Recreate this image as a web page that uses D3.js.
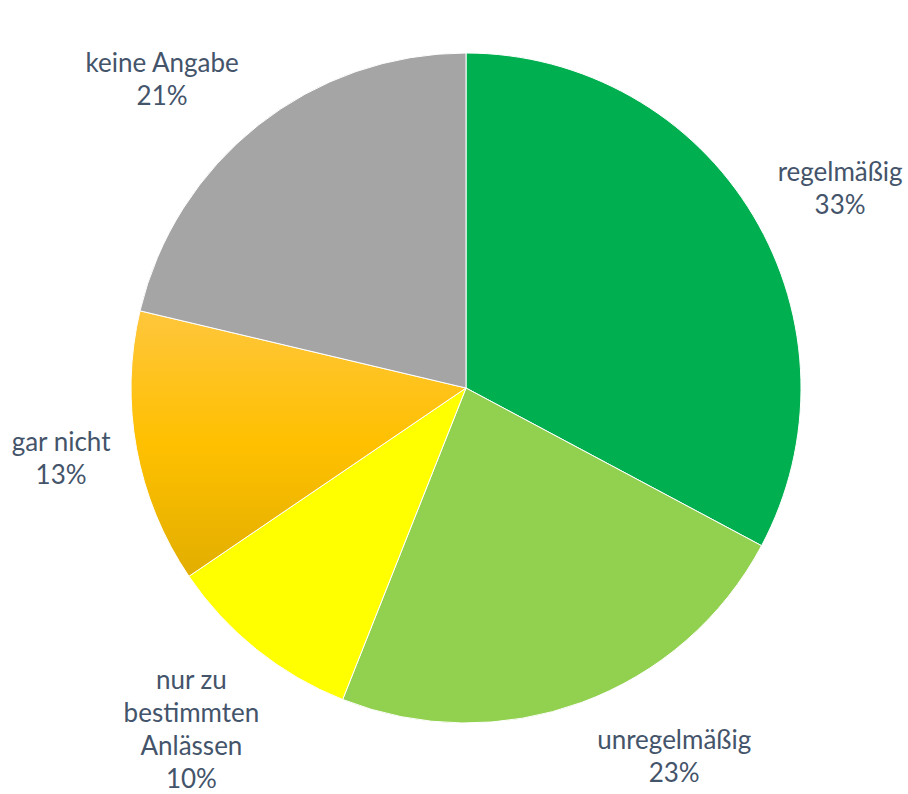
<!DOCTYPE html>
<html>
<head>
<meta charset="utf-8">
<script src="https://cdn.jsdelivr.net/npm/d3@7"></script>
<style>
  body { margin: 0; background: #fff; }
  text { font-family: Lato, "Open Sans", sans-serif; fill: #44546A; }
</style>
</head>
<body>
<div id="chart"></div>
<script>
'use strict';

// Chart data (clockwise from 12 o'clock)
var categories = ["regelmäßig", "unregelmäßig", "nur zu bestimmten Anlässen", "gar nicht", "keine Angabe"];
var values = [32.8, 23.2, 9.5, 13.2, 21.3];
var percent_labels = ["33%", "23%", "10%", "13%", "21%"];
// label lines as they wrap in the picture
var label_lines = [
	["regelmäßig"],
	["unregelmäßig"],
	["nur zu", "bestimmten", "Anlässen"],
	["gar nicht"],
	["keine Angabe"]
];
// label position, as angle (deg from top, clockwise) and radius factor
var label_angle = [61.9, 150.5, 218.8, 260.1, 315.4];
var label_radius = [1.266, 1.262, 1.308, 1.227, 1.292];

var colors = ["#00B050", "#92D050", "#FFFF00", "url(#orange_grad)", "#A5A5A5"];

var width = 908;
var height = 794;
var cx = 466;
var cy = 388;
var radius = 335;

var svg = d3.select("#chart").append("svg")
	.attr("width", width)
	.attr("height", height);

// gradient on the "gar nicht" slice
var grad = svg.append("defs").append("linearGradient")
	.attr("id", "orange_grad")
	.attr("x1", 0).attr("y1", 0)
	.attr("x2", 0).attr("y2", 1);
grad.append("stop").attr("offset", "0%").attr("stop-color", "#FFC63C");
grad.append("stop").attr("offset", "50%").attr("stop-color", "#FFC000");
grad.append("stop").attr("offset", "100%").attr("stop-color", "#E2AE00");

var pie = d3.pie().sort(null).value(function(d) { return d; });
var arc = d3.arc().innerRadius(0).outerRadius(radius);
var arcs = pie(values);

var g = svg.append("g").attr("transform", "translate(" + cx + "," + cy + ")");

g.selectAll(".slice").data(arcs).enter().append("path")
	.attr("class", "slice")
	.attr("d", arc)
	.style("fill", function(d, i) { return colors[i]; })
	.style("stroke", "#fff")
	.style("stroke-width", 1);

// labels outside the pie
var line_h = 33;
arcs.forEach(function(d, i) {
	var a = label_angle[i] * Math.PI / 180;
	var r = radius * label_radius[i];
	var x = Math.sin(a) * r;
	var y = -Math.cos(a) * r;
	var lines = label_lines[i].concat([percent_labels[i]]);
	var top = y - (lines.length - 1) * line_h / 2;
	var t = g.append("text")
		.attr("text-anchor", "middle")
		.style("font-size", "26px");
	lines.forEach(function(l, j) {
		t.append("tspan")
			.attr("x", x)
			.attr("y", top + j * line_h)
			.attr("dy", "0.35em")
			.text(l);
	});
});
</script>
</body>
</html>
